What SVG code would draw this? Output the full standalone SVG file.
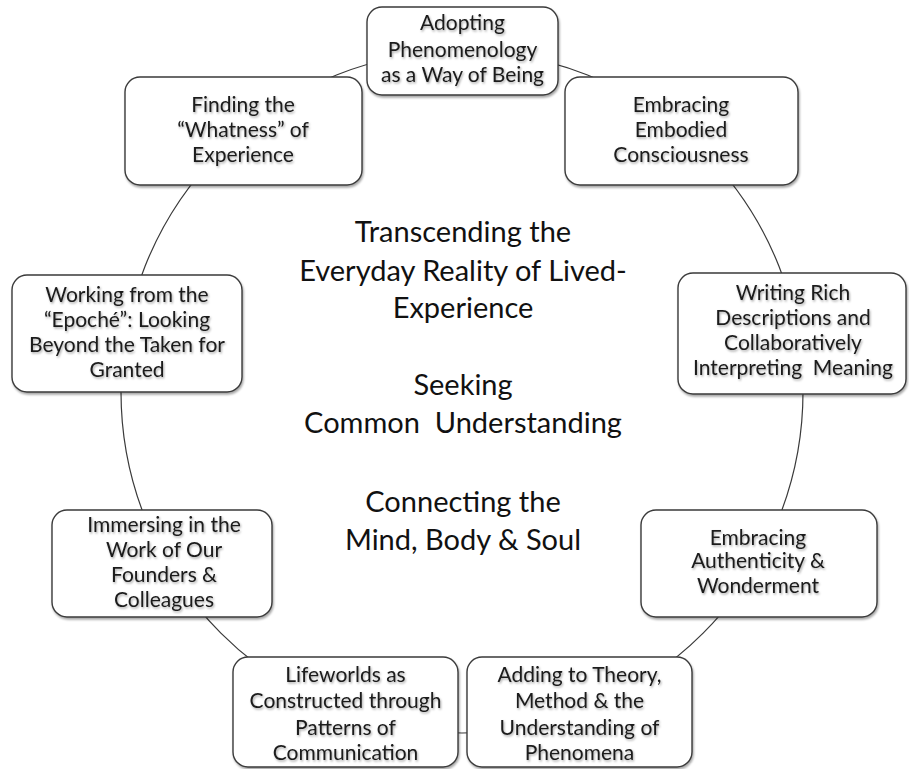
<svg xmlns="http://www.w3.org/2000/svg" width="909" height="769" viewBox="0 0 909 769">
  <defs>
    <filter id="boxShadow" x="-10%" y="-10%" width="120%" height="130%">
      <feDropShadow dx="1" dy="2" stdDeviation="1.2" flood-color="#000" flood-opacity="0.35"/>
    </filter>
    <filter id="textShadow" x="-5%" y="-20%" width="110%" height="150%">
      <feDropShadow dx="1" dy="1.5" stdDeviation="1" flood-color="#000" flood-opacity="0.35"/>
    </filter>
  </defs>
  <style>
    .box { fill: #ffffff; stroke: #3a3a3a; stroke-width: 1.4; filter: url(#boxShadow); }
    .label { font-family: Lato, "Liberation Sans", sans-serif; font-size: 21px; fill: #1a1a1a; text-anchor: middle; filter: url(#textShadow); white-space: pre; }
    .center { font-family: Lato, "Liberation Sans", sans-serif; font-size: 29px; fill: #111111; text-anchor: middle; white-space: pre; }
    .ring { fill: none; stroke: #3a3a3a; stroke-width: 1.2; }
  </style>
  <rect width="909" height="769" fill="#ffffff"/>

  <!-- ring that links all the stages -->
  <g id="connectors">
    <circle class="ring" cx="462" cy="392" r="341"/>
  </g>

  <!-- central themes -->
  <g id="center-text">
    <text class="center" x="463" y="242">Transcending the</text>
    <text class="center" x="463" y="281">Everyday Reality of Lived-</text>
    <text class="center" x="463" y="318">Experience</text>
    <text class="center" x="463" y="395">Seeking</text>
    <text class="center" x="463" y="433">Common  Understanding</text>
    <text class="center" x="463" y="512">Connecting the</text>
    <text class="center" x="463" y="550">Mind, Body &amp; Soul</text>
  </g>

  <g id="adopting">
    <rect class="box" x="367" y="7" width="191" height="88" rx="15"/>
    <text class="label" x="462.5" y="30">Adopting</text>
    <text class="label" x="462.5" y="57">Phenomenology</text>
    <text class="label" x="462.5" y="82">as a Way of Being</text>
  </g>

  <g id="whatness">
    <rect class="box" x="125" y="77" width="237" height="108" rx="15"/>
    <text class="label" x="243" y="112">Finding the</text>
    <text class="label" x="243" y="137">“Whatness” of</text>
    <text class="label" x="243" y="162">Experience</text>
  </g>

  <g id="embodied">
    <rect class="box" x="565" y="77" width="233" height="108" rx="15"/>
    <text class="label" x="681" y="112">Embracing</text>
    <text class="label" x="681" y="137">Embodied</text>
    <text class="label" x="681" y="162">Consciousness</text>
  </g>

  <g id="epoche">
    <rect class="box" x="12" y="275" width="230" height="117" rx="15"/>
    <text class="label" x="127" y="302">Working from the</text>
    <text class="label" x="127" y="327">“Epoché”: Looking</text>
    <text class="label" x="127" y="352">Beyond the Taken for</text>
    <text class="label" x="127" y="377">Granted</text>
  </g>

  <g id="descriptions">
    <rect class="box" x="678" y="273" width="228" height="121" rx="15"/>
    <text class="label" x="793" y="300">Writing Rich</text>
    <text class="label" x="793" y="325">Descriptions and</text>
    <text class="label" x="793" y="350">Collaboratively</text>
    <text class="label" x="793" y="375">Interpreting  Meaning</text>
  </g>

  <g id="founders">
    <rect class="box" x="52" y="510" width="220" height="107" rx="15"/>
    <text class="label" x="164" y="532">Immersing in the</text>
    <text class="label" x="164" y="557">Work of Our</text>
    <text class="label" x="164" y="582">Founders &amp;</text>
    <text class="label" x="164" y="607">Colleagues</text>
  </g>

  <g id="authenticity">
    <rect class="box" x="641" y="510" width="236" height="107" rx="15"/>
    <text class="label" x="758" y="545">Embracing</text>
    <text class="label" x="758" y="568">Authenticity &amp;</text>
    <text class="label" x="758" y="593">Wonderment</text>
  </g>

  <g id="lifeworlds">
    <rect class="box" x="233" y="657" width="225" height="110" rx="15"/>
    <text class="label" x="345.5" y="682">Lifeworlds as</text>
    <text class="label" x="345.5" y="708">Constructed through</text>
    <text class="label" x="345.5" y="735">Patterns of</text>
    <text class="label" x="345.5" y="760">Communication</text>
  </g>

  <g id="theory">
    <rect class="box" x="467" y="657" width="225" height="110" rx="15"/>
    <text class="label" x="579.5" y="682">Adding to Theory,</text>
    <text class="label" x="579.5" y="708">Method &amp; the</text>
    <text class="label" x="579.5" y="735">Understanding of</text>
    <text class="label" x="579.5" y="760">Phenomena</text>
  </g>
</svg>
